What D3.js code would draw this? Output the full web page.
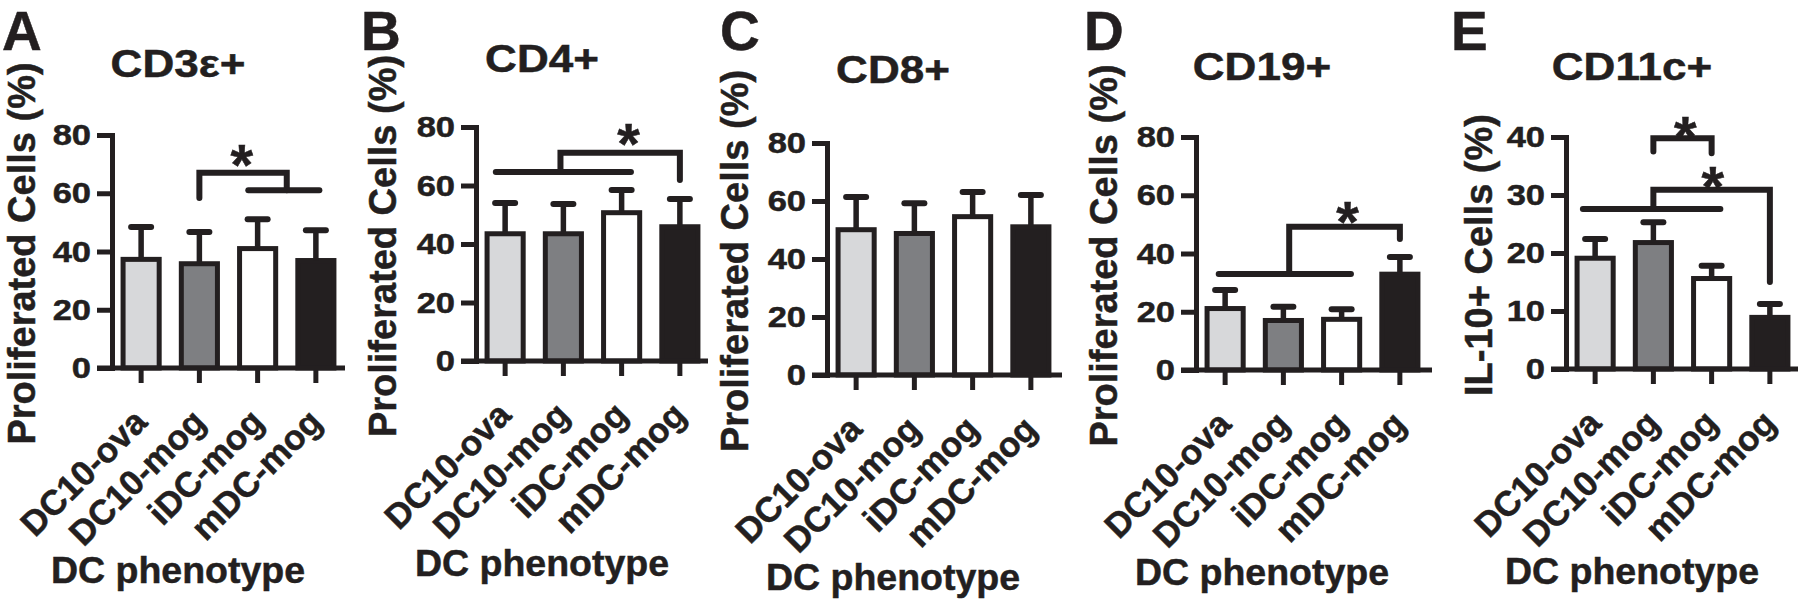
<!DOCTYPE html>
<html>
<head>
<meta charset="utf-8">
<script src="https://cdn.jsdelivr.net/npm/d3@7"></script>
<style>
  html, body { margin: 0; padding: 0; background: #ffffff; }
  svg { display: block; }
  text { font-family: "Liberation Sans", Arial, Helvetica, sans-serif; font-weight: bold; fill: #231f20; stroke: #231f20; stroke-width: 0.5px; }
</style>
</head>
<body>
<svg id="chart" width="1800" height="600"></svg>
<script>
// ---------------- data ----------------
const categories = ["DC10-ova", "DC10-mog", "iDC-mog", "mDC-mog"];
const panelLetters = ["A", "B", "C", "D", "E"];
const panelTitles = ["CD3\u03b5+", "CD4+", "CD8+", "CD19+", "CD11c+"];
const yAxisTitles = ["Proliferated Cells (%)", "Proliferated Cells (%)", "Proliferated Cells (%)", "Proliferated Cells (%)", "IL-10+ Cells (%)"];
const xAxisTitle = "DC phenotype";
const yMaxes = [80, 80, 80, 80, 40];
const yTickLabels = [[0, 20, 40, 60, 80], [0, 20, 40, 60, 80], [0, 20, 40, 60, 80], [0, 20, 40, 60, 80], [0, 10, 20, 30, 40]];

const cd3Mean  = [37.3, 35.8, 41.0, 36.9];
const cd3Sem   = [11.1, 10.9, 10.1, 10.4];
const cd4Mean  = [43.5, 43.5, 50.7, 45.9];
const cd4Sem   = [10.5, 10.2, 7.8, 9.5];
const cd8Mean  = [50.1, 48.8, 54.6, 51.1];
const cd8Sem   = [11.3, 10.4, 8.5, 11.0];
const cd19Mean = [21.1, 17.0, 17.4, 32.9];
const cd19Sem  = [6.4, 4.7, 3.5, 5.9];
const cd11cMean = [19.1, 21.8, 15.6, 8.9];
const cd11cSem  = [3.3, 3.5, 2.2, 2.3];

const means = [cd3Mean, cd4Mean, cd8Mean, cd19Mean, cd11cMean];
const sems  = [cd3Sem, cd4Sem, cd8Sem, cd19Sem, cd11cSem];

// significance annotations (category index units, data values)
const brackets = [
  [ { legs: [[1, 58.4], [2.5, 61.0]], top: 67.0, group: [1.84, 3.06, 61.0] } ],
  [ { legs: [[0.95, 64.6], [3, 61.9]], top: 71.2, group: [-0.16, 2.16, 64.6] } ],
  [],
  [ { legs: [[1.1, 33.0], [3, 45.0]], top: 49.2, group: [-0.11, 2.16, 33.0] } ],
  [ { legs: [[1, 37.5], [2, 37.2]], top: 39.8, group: null },
    { legs: [[1.0, 27.6], [3, 15.0]], top: 30.9, group: [-0.21, 2.15, 27.6] } ]
];
const stars = [
  [[1.73, 74.1]],
  [[2.12, 78.6]],
  [],
  [[2.1, 55.3]],
  [[1.55, 42.2], [2.02, 33.6]]
];

// ---------------- layout & style ----------------
const layout = [
  { axisX: 112,  y0: 368, yTop: 135, xEnd: 345,  titleY: 77, letterX: 2,    yLabelX: 35 },
  { axisX: 476,  y0: 361, yTop: 127, xEnd: 708,  titleY: 72, letterX: 361,  yLabelX: 396 },
  { axisX: 827,  y0: 375, yTop: 143, xEnd: 1062, titleY: 83, letterX: 720,  yLabelX: 748 },
  { axisX: 1196, y0: 370, yTop: 137, xEnd: 1432, titleY: 80, letterX: 1084, yLabelX: 1117 },
  { axisX: 1566, y0: 369, yTop: 137, xEnd: 1798, titleY: 80, letterX: 1451, yLabelX: 1492 }
];
const barFills = ["#d7d8da", "#7e7f82", "#ffffff", "#231f20"];
const ink = "#231f20";
const LW = 5;

const svg = d3.select("#chart");

layout.forEach((L, p) => {
  const g = svg.append("g");
  const y = d3.scaleLinear().domain([0, yMaxes[p]]).range([L.y0, L.yTop]);
  const x = d3.scaleBand().domain(categories).range([L.axisX, L.axisX + 233])
              .paddingInner(0.38).paddingOuter(0.19);
  const bw = x.bandwidth();
  const xi = f => x(categories[0]) + bw / 2 + f * x.step();

  // bars
  g.selectAll("rect.bar").data(means[p]).join("rect")
    .attr("x", (d, i) => x(categories[i]))
    .attr("width", bw)
    .attr("y", d => y(d))
    .attr("height", d => L.y0 - y(d))
    .attr("fill", (d, i) => barFills[i])
    .attr("stroke", ink).attr("stroke-width", LW);

  // error bars (upper)
  means[p].forEach((m, i) => {
    const cx = x(categories[i]) + bw / 2;
    const top = y(m + sems[p][i]);
    g.append("line").attr("x1", cx).attr("x2", cx).attr("y1", y(m)).attr("y2", top)
      .attr("stroke", ink).attr("stroke-width", LW + 0.5);
    g.append("line").attr("x1", cx - 10).attr("x2", cx + 10).attr("y1", top).attr("y2", top)
      .attr("stroke", ink).attr("stroke-width", LW + 1).attr("stroke-linecap", "round");
  });

  // y axis
  const yAxis = d3.axisLeft(y).tickValues(yTickLabels[p]).tickSize(15).tickSizeOuter(0).tickPadding(6);
  const ya = g.append("g").attr("transform", `translate(${L.axisX},0)`).call(yAxis);
  ya.select(".domain").attr("stroke", ink).attr("stroke-width", LW).attr("stroke-linecap", "square");
  ya.selectAll(".tick line").attr("stroke", ink).attr("stroke-width", LW);
  ya.selectAll(".tick text").attr("font-size", 30).attr("font-family", null).attr("fill", ink)
    .attr("x", -21 / 1.15).attr("transform", "scale(1.15,1)");

  // x axis
  const xAxis = d3.axisBottom(x).tickSize(15).tickSizeOuter(0).tickFormat("");
  const xa = g.append("g").attr("transform", `translate(0,${L.y0})`).call(xAxis);
  xa.select(".domain").remove();
  xa.selectAll(".tick line").attr("stroke", ink).attr("stroke-width", LW);
  g.append("line").attr("x1", L.axisX - 15).attr("x2", L.xEnd).attr("y1", L.y0).attr("y2", L.y0)
    .attr("stroke", ink).attr("stroke-width", LW);

  // category labels
  categories.forEach((c, i) => {
    const cx = x(c) + bw / 2;
    g.append("text").text(c)
      .attr("font-size", 35)
      .attr("text-anchor", "end")
      .attr("transform", `translate(${cx + 8},${L.y0 + 56}) rotate(-45)`);
  });

  // x axis title
  g.append("text").text(xAxisTitle).attr("font-size", 37.5).attr("text-anchor", "middle")
    .attr("x", L.axisX + 66).attr("y", L.y0 + 215);

  // y axis title
  g.append("text").text(yAxisTitles[p]).attr("font-size", 38).attr("text-anchor", "middle")
    .attr("transform", `translate(${L.yLabelX},${(L.y0 + L.yTop) / 2 + 2}) rotate(-90)`);

  // panel title
  g.append("text").text(panelTitles[p]).attr("font-size", 39).attr("text-anchor", "middle")
    .attr("transform", `translate(${L.axisX + 66},${L.titleY}) scale(1.13,1)`);

  // panel letter
  g.append("text").text(panelLetters[p]).attr("font-size", 55)
    .attr("x", L.letterX).attr("y", 50);

  // significance brackets
  brackets[p].forEach(b => {
    const [l1, l2] = b.legs;
    const path = d3.path();
    path.moveTo(xi(l1[0]), y(l1[1]));
    path.lineTo(xi(l1[0]), y(b.top));
    path.lineTo(xi(l2[0]), y(b.top));
    path.lineTo(xi(l2[0]), y(l2[1]));
    g.append("path").attr("d", path.toString()).attr("fill", "none")
      .attr("stroke", ink).attr("stroke-width", LW + 1)
      .attr("stroke-linecap", "round").attr("stroke-linejoin", "miter");
    if (b.group) {
      g.append("line").attr("x1", xi(b.group[0])).attr("x2", xi(b.group[1]))
        .attr("y1", y(b.group[2])).attr("y2", y(b.group[2]))
        .attr("stroke", ink).attr("stroke-width", LW + 1).attr("stroke-linecap", "round");
    }
  });
  stars[p].forEach(s => {
    g.append("text").text("*").attr("font-size", 58).attr("text-anchor", "middle")
      .attr("x", xi(s[0])).attr("y", y(s[1]) + 0.57 * 58);
  });
});
</script>
</body>
</html>
